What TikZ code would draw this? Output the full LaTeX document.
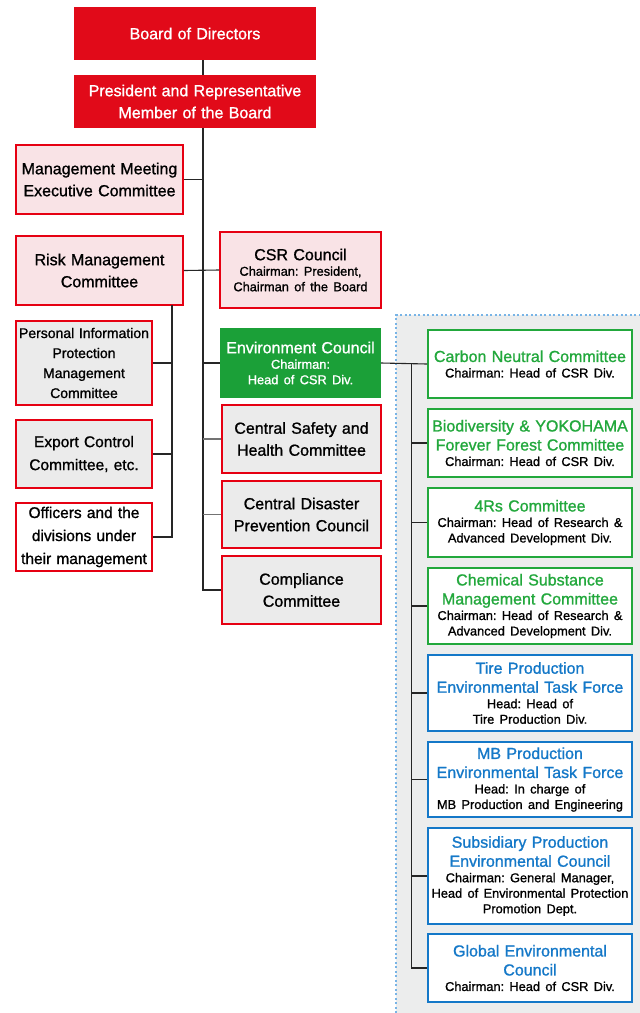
\documentclass[tikz,border=0pt]{standalone}
\usepackage{fontspec}
\setmainfont{Liberation Sans}[FakeBold=1.1]
\frenchspacing
\definecolor{rougeF}{RGB}{225,10,25}
\definecolor{rougeT}{RGB}{230,0,18}
\definecolor{roseF}{RGB}{249,227,230}
\definecolor{grisF}{RGB}{235,235,235}
\definecolor{vertF}{RGB}{27,160,56}
\definecolor{vertT}{RGB}{34,168,60}
\definecolor{bleuT}{RGB}{20,120,200}
\definecolor{zoneF}{RGB}{236,237,237}
\definecolor{zoneT}{RGB}{120,180,230}
\newcommand{\titre}[2][.]{{\fontsize{16}{19}\selectfont\color{#1}#2\par}}
\newcommand{\sousTitre}[1]{{\fontsize{12.8}{15.5}\selectfont #1\par}}
\begin{document}
\begin{tikzpicture}[x=1pt,y=-1pt]
		% Styles
		\tikzstyle{lien}=[-,line width=1.1pt,black!85]
		\tikzstyle{lienGris}=[-,line width=1.1pt,black!55]
		\tikzstyle{boite}=[inner sep=0pt,align=center,font=\fontsize{16}{22}\selectfont]
		\tikzstyle{tete}=[boite,fill=rougeF,text=white]
		\tikzstyle{rose}=[boite,fill=roseF,draw=rougeT,line width=1.8pt]
		\tikzstyle{gris}=[boite,fill=grisF,draw=rougeT,line width=1.8pt]
		\tikzstyle{blanc}=[boite,fill=white,draw=rougeT,line width=1.8pt]
		\tikzstyle{env}=[boite,fill=vertF,text=white]
		\tikzstyle{comV}=[boite,fill=white,draw=vertT,line width=1.8pt]
		\tikzstyle{comB}=[boite,fill=white,draw=bleuT,line width=1.8pt]
		% Dimensions
		\def\LargeurTete{242pt}
		\def\LargeurG{167pt}
		\def\LargeurPG{136pt}
		\def\LargeurM{161pt}
		\def\LargeurD{204pt}
		\useasboundingbox (0,0) rectangle (640,1013);
		% Zone environnement
		\fill[zoneF] (396,315) rectangle (640,1013);
		\draw[zoneT,line width=1.4pt,dash pattern=on 2pt off 2.5pt] (396,1013) |- (640,315);
		% Noeuds
		\node[tete,text width=\LargeurTete,minimum height=53pt] (CA) at (195,33.5) {Board of Directors};
		\node[tete,text width=\LargeurTete,minimum height=53pt] (Pdt) at (195,101.5) {President and Representative\\Member of the Board};
		\node[rose,text width=\LargeurG,minimum height=69pt] (Dir) at (99.5,179.5) {Management Meeting\\Executive Committee};
		\node[rose,text width=\LargeurG,minimum height=69pt] (Risq) at (99.5,270.5) {Risk Management\\Committee};
		\node[rose,text width=\LargeurM,minimum height=76pt] (CSR) at (300.5,270) {\titre{CSR Council}\sousTitre{Chairman: President,\\Chairman of the Board}};
		\node[gris,text width=\LargeurPG,minimum height=84pt,font=\fontsize{14}{20}\selectfont] (Perso) at (84,363) {Personal Information\\Protection\\Management\\Committee};
		\node[gris,text width=\LargeurPG,minimum height=68pt,font=\fontsize{15.5}{23}\selectfont] (Export) at (84,454) {Export Control\\Committee, etc.};
		\node[blanc,text width=\LargeurPG,minimum height=68pt,font=\fontsize{15.5}{23}\selectfont] (Off) at (84,537) {Officers and the\\divisions under\\their management};
		\node[env,text width=\LargeurM,minimum height=70pt] (Env) at (300.5,363) {\titre{Environment Council}\sousTitre{Chairman:\\Head of CSR Div.}};
		\node[gris,text width=159pt,minimum height=68pt] (Secu) at (301.5,439) {Central Safety and\\Health Committee};
		\node[gris,text width=159pt,minimum height=67pt] (Desa) at (301.5,514.5) {Central Disaster\\Prevention Council};
		\node[gris,text width=159pt,minimum height=68pt] (Conf) at (301.5,590) {Compliance\\Committee};
		
		\node[comV,text width=\LargeurD,minimum height=68pt] (Carb) at (530,364) {\titre[vertT]{Carbon Neutral Committee}\sousTitre{Chairman: Head of CSR Div.}};
		\node[comV,text width=\LargeurD,minimum height=68pt] (Bio) at (530,443) {\titre[vertT]{Biodiversity \& YOKOHAMA\\Forever Forest Committee}\sousTitre{Chairman: Head of CSR Div.}};
		\node[comV,text width=\LargeurD,minimum height=69pt] (QuatreR) at (530,522.5) {\titre[vertT]{4Rs Committee}\sousTitre{Chairman: Head of Research \&\\Advanced Development Div.}};
		\node[comV,text width=\LargeurD,minimum height=76pt] (Chim) at (530,606) {\titre[vertT]{Chemical Substance\\Management Committee}\sousTitre{Chairman: Head of Research \&\\Advanced Development Div.}};
		\node[comB,text width=\LargeurD,minimum height=76pt] (Pneu) at (530,693) {\titre[bleuT]{Tire Production\\Environmental Task Force}\sousTitre{Head: Head of\\Tire Production Div.}};
		\node[comB,text width=\LargeurD,minimum height=75pt] (MB) at (530,779.5) {\titre[bleuT]{MB Production\\Environmental Task Force}\sousTitre{Head: In charge of\\MB Production and Engineering}};
		\node[comB,text width=\LargeurD,minimum height=96pt] (Fil) at (530,876) {\titre[bleuT]{Subsidiary Production\\Environmental Council}\sousTitre{Chairman: General Manager,\\Head of Environmental Protection\\Promotion Dept.}};
		\node[comB,text width=\LargeurD,minimum height=68pt] (Glob) at (530,968) {\titre[bleuT]{Global Environmental\\Council}\sousTitre{Chairman: Head of CSR Div.}};
		
		% Points de branchement
		\coordinate (tronc) at (203,128);
		\coordinate (brG) at (172,305);
		\coordinate (brD) at (411.5,363);
		
		% Liens
		\draw[lien] (CA.south -| tronc) -- (Pdt.north -| tronc);
		\draw[lien] (tronc) |- (Conf.west);
		\draw[lien] (Dir.east) -- (Dir.east -| tronc);
		\draw[lien] (Risq.east) -- (CSR.west);
		\draw[lien] (Env.west) -- (Env.west -| tronc);
		\draw[lienGris] (Secu.west) -- (Secu.west -| tronc);
		\draw[lienGris] (Desa.west) -- (Desa.west -| tronc);
		\draw[lien] (brG) |- (Off.east);
		\draw[lien] (Perso.east) -- (Perso.east -| brG);
		\draw[lien] (Export.east) -- (Export.east -| brG);
		\draw[lien] (Env.east) -- (Carb.west);
		\draw[lien] (brD) |- (Glob.west);
		\foreach \n in {Bio,QuatreR,Chim,Pneu,MB,Fil}
			\draw[lien] (\n.west) -- (\n.west -| brD);
		
	\end{tikzpicture}
\end{document}
